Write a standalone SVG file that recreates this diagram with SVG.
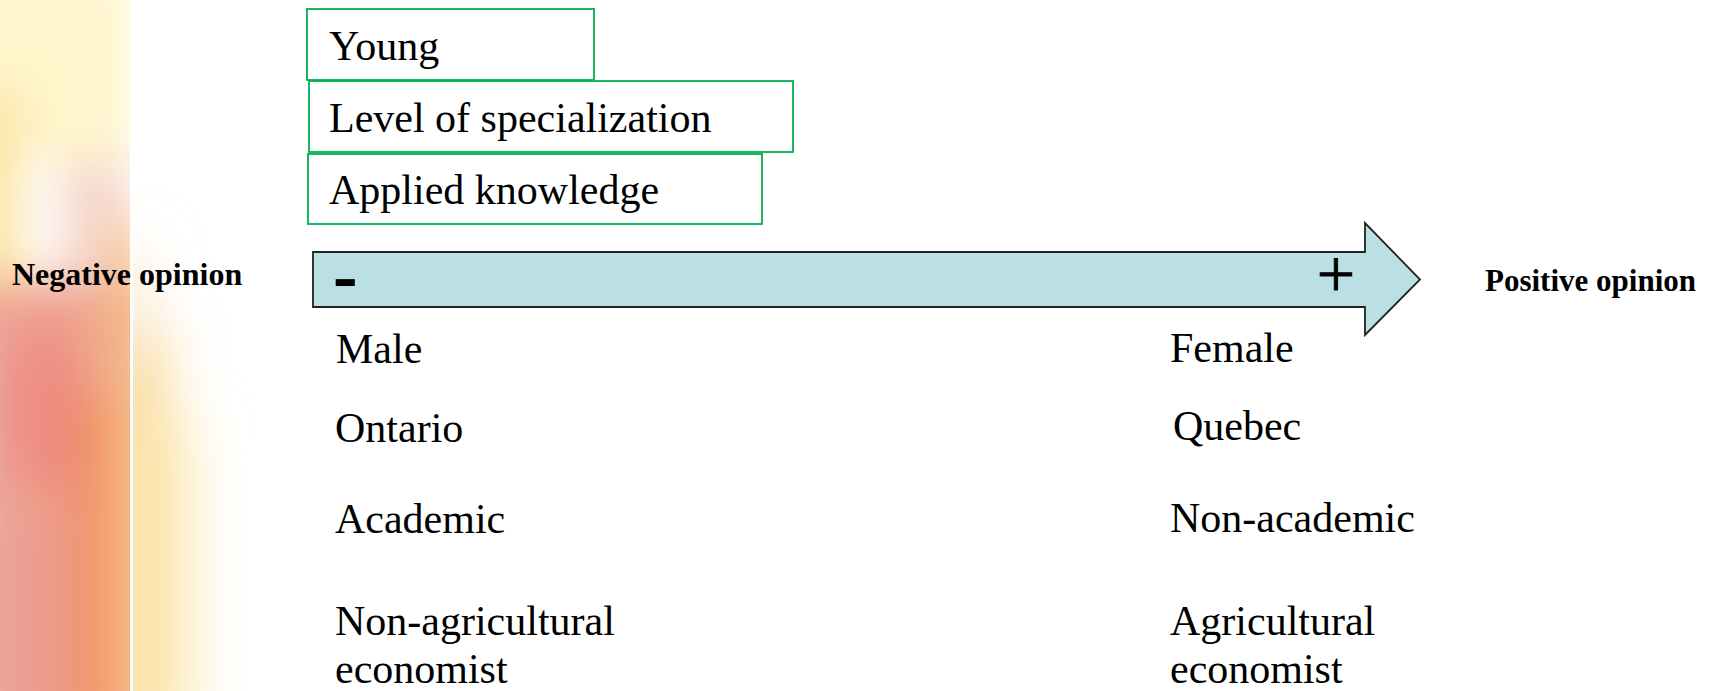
<svg xmlns="http://www.w3.org/2000/svg" width="1720" height="691" viewBox="0 0 1720 691">
<defs>
<style>
.serif{font-family:"Liberation Serif","Times New Roman",serif;fill:#000}
.body{font-size:42px}
.side{font-weight:bold}
.box{fill:#fff;stroke:#00B050;stroke-width:1.8}
.arrow{fill:#BBE0E3;stroke:#222;stroke-width:1.8}
</style>
<filter id="blur" x="-50%" y="-50%" width="200%" height="200%"><feGaussianBlur stdDeviation="22"/></filter>
<filter id="blur2" x="-100%" y="-50%" width="300%" height="200%"><feGaussianBlur stdDeviation="30"/></filter>
<clipPath id="clipL"><rect x="0" y="0" width="130" height="691"/></clipPath>
<clipPath id="clipR"><rect x="133" y="0" width="200" height="691"/></clipPath>
</defs>
<rect width="1720" height="691" fill="#fff"/>
<g id="background">
<g clip-path="url(#clipL)">
<g filter="url(#blur)">
<rect x="-40" y="-40" width="170" height="200" fill="#FFF5CC"/>
<rect x="-40" y="90" width="60" height="200" fill="#FCE3A0"/>
<rect x="60" y="160" width="70" height="140" fill="#F5D8CC"/>
<rect x="-40" y="280" width="200" height="460" fill="#EFA590"/>
<ellipse cx="45" cy="410" rx="40" ry="90" fill="#EE8C84"/>
<rect x="-40" y="300" width="40" height="420" fill="#E8A4A0"/>
<rect x="70" y="390" width="50" height="340" fill="#F08E68"/>
<rect x="112" y="220" width="30" height="500" fill="#F6C080"/>
<rect x="20" y="520" width="40" height="200" fill="#E99A90"/>
</g>
</g>
<g clip-path="url(#clipR)">
<g filter="url(#blur2)">
<rect x="110" y="330" width="50" height="420" fill="#F8CF7A"/>
<rect x="140" y="420" width="50" height="320" fill="#FCE8AE"/>
<rect x="110" y="250" width="30" height="100" fill="#FBE0C0"/>
</g>
</g>
<rect x="130" y="0" width="3" height="691" fill="#fff" opacity="0.95"/>
</g>
<g id="connectors">
<polygon id="axis-arrow" class="arrow" points="313,252 1365,252 1365,223 1420,279.5 1365,335 1365,307 313,307"/>
</g>
<g id="node-young"><rect class="box" x="307" y="9" width="287" height="71"/><text class="serif body" x="329" y="60">Young</text></g>
<g id="node-specialization"><rect class="box" x="309" y="81" width="484" height="71"/><text class="serif body" x="329" y="132">Level of specialization</text></g>
<g id="node-applied"><rect class="box" x="308" y="154" width="454" height="70"/><text class="serif body" x="329" y="204">Applied knowledge</text></g>
<g id="minus-sign"><text transform="translate(332.7,297.7) scale(1.3,1)" style="font-family:'Liberation Sans',Arial,sans-serif;font-weight:bold;font-size:58px">-</text></g>
<g id="plus-sign"><text class="serif" x="1336" y="297" text-anchor="middle" style="font-size:68px;stroke:#000;stroke-width:0.9">+</text></g>
<g id="label-negative"><text class="serif side" x="12" y="285" style="font-size:32px">Negative opinion</text></g>
<g id="label-positive"><text class="serif side" x="1485" y="291" style="font-size:31px">Positive opinion</text></g>
<g id="left-labels">
<text class="serif body" x="336" y="363">Male</text>
<text class="serif body" x="335" y="442">Ontario</text>
<text class="serif body" x="335" y="533">Academic</text>
<text class="serif body" x="335" y="635">Non-agricultural</text>
<text class="serif body" x="335" y="683">economist</text>
</g>
<g id="right-labels">
<text class="serif body" x="1170" y="362">Female</text>
<text class="serif body" x="1173" y="440">Quebec</text>
<text class="serif body" x="1170" y="532">Non-academic</text>
<text class="serif body" x="1170" y="635">Agricultural</text>
<text class="serif body" x="1170" y="683">economist</text>
</g>
</svg>
